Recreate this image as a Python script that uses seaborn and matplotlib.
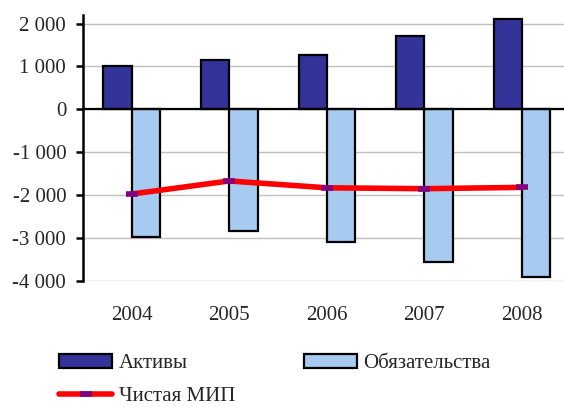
import matplotlib
matplotlib.use("Agg")
import matplotlib.pyplot as plt
import seaborn as sns
import pandas as pd
import numpy as np
from matplotlib.ticker import FuncFormatter, MultipleLocator
from matplotlib.lines import Line2D
from matplotlib.patches import Patch

years = ["2004", "2005", "2006", "2007", "2008"]
assets = [1000, 1160, 1260, 1700, 2100]
liabilities = [-2975, -2830, -3090, -3550, -3920]
net_iip = [-1975, -1670, -1830, -1850, -1820]

lbl_assets = "Активы"
lbl_liab = "Обязательства"
lbl_net = "Чистая МИП"

sns.set_style("white")
plt.rcParams["font.family"] = ["Liberation Serif", "DejaVu Serif"]

df = pd.DataFrame({
    "year": years * 2,
    "value": assets + liabilities,
    "series": [lbl_assets] * len(years) + [lbl_liab] * len(years),
})

fig = plt.figure(figsize=(5.64, 4.07), dpi=100)
ax = fig.add_axes([0.147, 0.31, 0.865, 0.653])

pal = {lbl_assets: "#333399", lbl_liab: "#a6caf0"}
sns.barplot(data=df, x="year", y="value", hue="series", palette=pal,
            saturation=1, width=0.58, edgecolor="black", linewidth=1.6,
            ax=ax, legend=False, zorder=3)

xs = np.arange(len(years))
ax.plot(xs, net_iip, color="red", lw=4, solid_capstyle="round", zorder=4)
ax.plot(xs, net_iip, ls="none", marker="_", ms=8, mew=4, color="#800080", zorder=5)

ax.axhline(0, color="black", lw=1.6, zorder=4)
ax.set_ylim(-4000, 2200)
ax.set_xlim(-0.5, 4.5)
ax.yaxis.set_major_locator(MultipleLocator(1000))
ax.yaxis.set_major_formatter(FuncFormatter(lambda v, p: f"{int(v):,}".replace(",", " ")))
ax.yaxis.grid(True, color="#c0c0c0", lw=1)
ax.set_axisbelow(True)

for s in ["top", "right", "bottom"]:
    ax.spines[s].set_visible(False)
ax.spines["left"].set_color("black")
ax.spines["left"].set_linewidth(1.8)

ax.tick_params(axis="y", direction="out", length=5, width=1.8, color="black",
               labelsize=15, pad=7, left=True)
ax.tick_params(axis="x", length=0, labelsize=15, pad=18)
ax.set_xlabel("")
ax.set_ylabel("")

handles = [
    Patch(facecolor="#333399", edgecolor="black", lw=1.6, label=lbl_assets),
    Line2D([], [], color="red", lw=4, marker="_", ms=8, mew=4,
           markeredgecolor="#800080", label=lbl_net),
    Patch(facecolor="#a6caf0", edgecolor="black", lw=1.6, label=lbl_liab),
]
fig.legend(handles=handles, ncol=2, loc="upper left", bbox_to_anchor=(0.105, 0.13),
           frameon=False, fontsize=15, handlelength=2.55, handleheight=0.67,
           handletextpad=0.3, columnspacing=3.3, labelspacing=0.65,
           borderaxespad=0, borderpad=0)

fig.savefig("out.png", dpi=100)
